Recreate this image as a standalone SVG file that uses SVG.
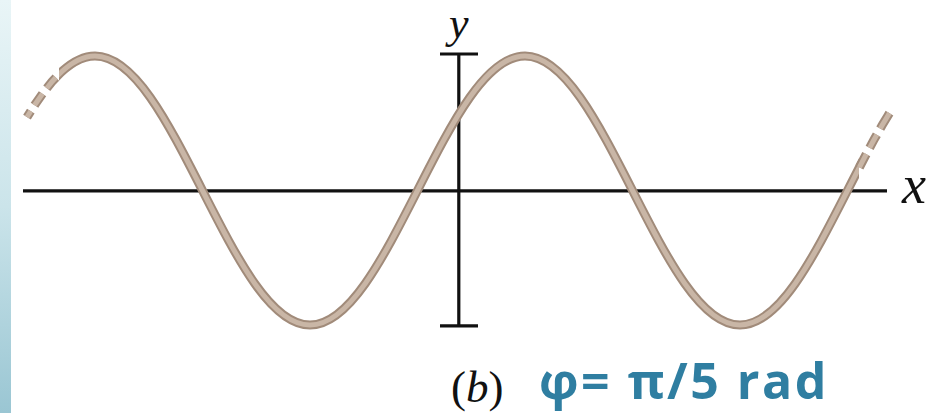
<svg xmlns="http://www.w3.org/2000/svg" width="939" height="413" viewBox="0 0 939 413">
  <style>
    .axis { stroke: #111; stroke-width: 3.2; fill: none; }
    .wave-out { stroke: #a18b7a; stroke-width: 9; fill: none; }
    .wave-in { stroke: #c9b6a6; stroke-width: 5; fill: none; }
    .lbl { font-family: "Liberation Serif", "Times New Roman", serif; font-style: italic; fill: #111; }
    .cap { font-family: "Open Sans", "Liberation Sans", sans-serif; font-weight: bold; fill: #2f7ea1; }
  </style>
  <defs>
    <linearGradient id="strip" x1="0" y1="0" x2="0" y2="1">
      <stop offset="0" stop-color="#e9f5f7"/>
      <stop offset="0.5" stop-color="#cbe4ea"/>
      <stop offset="1" stop-color="#9ac6d3"/>
    </linearGradient>
    <clipPath id="solidClip">
      <rect x="59" y="0" width="800" height="413"/>
    </clipPath>
    <path id="wavePath" d="M -12.5 190.5 C 22.56 121.6 55.9 56 95 56 S 167.44 121.6 202.5 190.5 S 271.1 325 310 325 S 382.44 259.4 417.5 190.5 S 486.1 56 525 56 S 597.44 121.6 632.5 190.5 S 701.1 325 740 325 S 812.44 259.4 847.5 190.5 S 916.1 56 955 56"/>
    <path id="dashL" d="M 60 73.2 L 52 81.7 L 43.5 92.3 L 35 104.5 L 27 117.1"/>
    <path id="dashR" d="M 858 170 L 866 154.6 L 874 139.7 L 882 125.5 L 890 112.2"/>
  </defs>

  <rect x="0" y="0" width="939" height="413" fill="#ffffff"/>
  <rect x="0" y="0" width="11" height="413" fill="url(#strip)"/>

  <g id="axes">
    <line class="axis" x1="23" y1="190.8" x2="887" y2="190.8"/>
    <line class="axis" x1="458.8" y1="54" x2="458.8" y2="325.8"/>
    <line class="axis" x1="440" y1="54" x2="478" y2="54"/>
    <line class="axis" x1="440" y1="325.8" x2="478" y2="325.8"/>
  </g>

  <g id="wave">
    <g clip-path="url(#solidClip)">
      <use href="#wavePath" class="wave-out"/>
      <use href="#wavePath" class="wave-in"/>
    </g>
    <g stroke-dasharray="0 6 14 7 14 7 14">
      <use href="#dashL" class="wave-out"/>
      <use href="#dashL" class="wave-in"/>
    </g>
    <g stroke-dasharray="0 3 15 7 15 7 15">
      <use href="#dashR" class="wave-out"/>
      <use href="#dashR" class="wave-in"/>
    </g>
  </g>

  <g id="label-y">
    <text class="lbl" x="449" y="38" font-size="44">y</text>
  </g>
  <g id="label-x">
    <text class="lbl" x="902" y="203" font-size="54">x</text>
  </g>
  <g id="caption">
    <text class="lbl" x="451" y="402" font-size="45"><tspan font-style="normal">(</tspan>b<tspan font-style="normal">)</tspan></text>
    <text class="cap" x="539" y="399" font-size="50" letter-spacing="2.5">φ= π/5 rad</text>
  </g>
</svg>
